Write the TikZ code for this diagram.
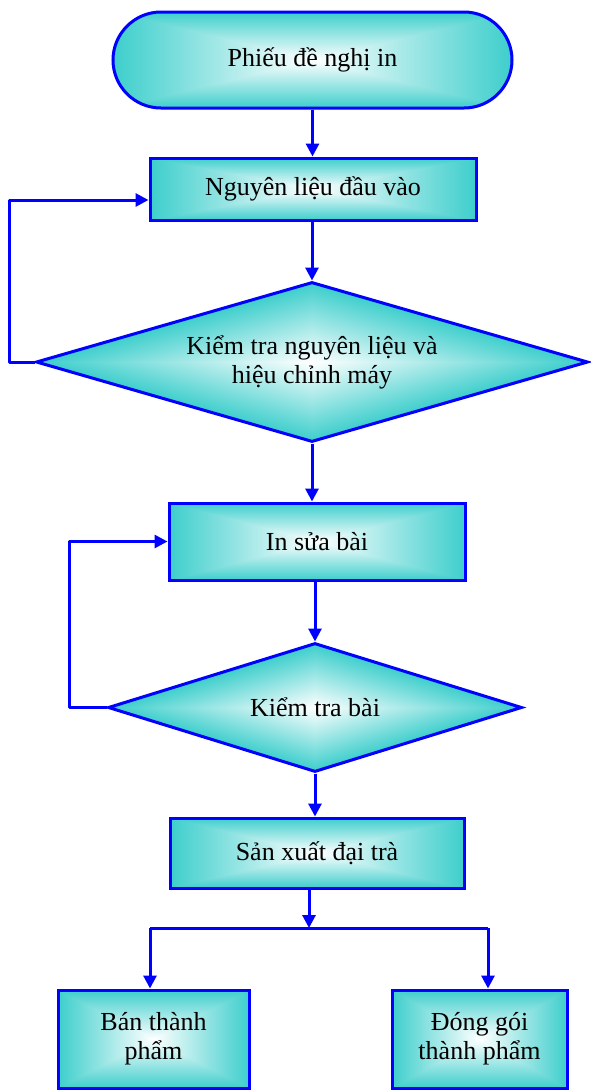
\documentclass[tikz,border=0pt]{standalone}
\usepackage{fontspec}
\setmainfont{Liberation Serif}
\usetikzlibrary{shapes.geometric,shapes.misc,arrows.meta}
\definecolor{lineblue}{RGB}{0,0,255}
\pgfdeclarefunctionalshading{rectglow}{\pgfpointorigin}{\pgfpoint{100bp}{100bp}}{}{
50 sub abs 25 div exch 50 sub abs 25 div 2 copy lt {exch} if pop dup 1 gt {pop 1} if
dup 0.76 mul 1 exch sub exch dup 0.19 mul 1 exch sub exch 0.20 mul 1 exch sub
}
\pgfdeclarefunctionalshading{diamglow}{\pgfpointorigin}{\pgfpoint{100bp}{100bp}}{}{
50 sub abs 25 div exch 50 sub abs 25 div add dup 1 gt {pop 1} if
dup 0.76 mul 1 exch sub exch dup 0.19 mul 1 exch sub exch 0.20 mul 1 exch sub
}
\tikzset{
  base/.style={draw=lineblue, line width=3pt, shade, shading=rectglow, inner sep=0pt,
    align=center, font=\fontsize{26}{29}\selectfont},
  procbox/.style={base, rectangle},
  termbox/.style={base, rounded rectangle},
  decbox/.style={base, diamond, shading=diamglow},
  conn/.style={draw=lineblue, line width=3pt, line join=round},
  arr/.style={conn, -{Triangle[length=13pt,width=13pt]}}
}
\begin{document}
\begin{tikzpicture}[x=1pt,y=-1pt]
\useasboundingbox (0,0) rectangle (590,1090);
\node[termbox, minimum width=399pt, minimum height=96pt] (t) at (312.5,60) {Phiếu đề nghị in};
\node[procbox, minimum width=326pt, minimum height=62pt] (b1) at (313,189) {Nguyên liệu đầu vào};
\node[decbox, aspect=3.45, minimum width=552pt, minimum height=160pt] (d1) at (312,362) {Kiểm tra nguyên liệu và\\hiệu chỉnh máy};
\node[procbox, minimum width=296pt, minimum height=77pt] (b2) at (317,541.5) {In sửa bài};
\node[decbox, aspect=3.2, minimum width=414pt, minimum height=129pt] (d2) at (315,707.5) {Kiểm tra bài};
\node[procbox, minimum width=294pt, minimum height=70pt] (b3) at (317,853) {Sản xuất đại trà};
\node[procbox, minimum width=191pt, minimum height=98pt] (b4) at (153.5,1039) {Bán thành\\phẩm};
\node[procbox, minimum width=175pt, minimum height=98pt] (b5) at (479.5,1039) {Đóng gói\\thành phẩm};
\coordinate (j) at (309,928);
\coordinate (jl) at (150,928);
\coordinate (jr) at (488,928);
\draw[arr] (t.south) -- (t.south |- b1.north);
\draw[arr] (d1.north |- b1.south) -- (d1.north);
\draw[arr] (d1.west) -- ++(-25,0) |- ([yshift=-11pt]b1.west);
\draw[arr] (d1.south) -- (d1.south |- b2.north);
\draw[arr] (d2.north |- b2.south) -- (d2.north);
\draw[arr] (d2.west) -- ++(-37,0) |- (b2.west);
\draw[arr] (d2.south) -- (d2.south |- b3.north);
\draw[arr] (j |- b3.south) -- (j);
\draw[conn] (jl) -- (jr);
\draw[arr] (jl) -- (jl |- b4.north);
\draw[arr] (jr) -- (jr |- b5.north);
\end{tikzpicture}
\end{document}
